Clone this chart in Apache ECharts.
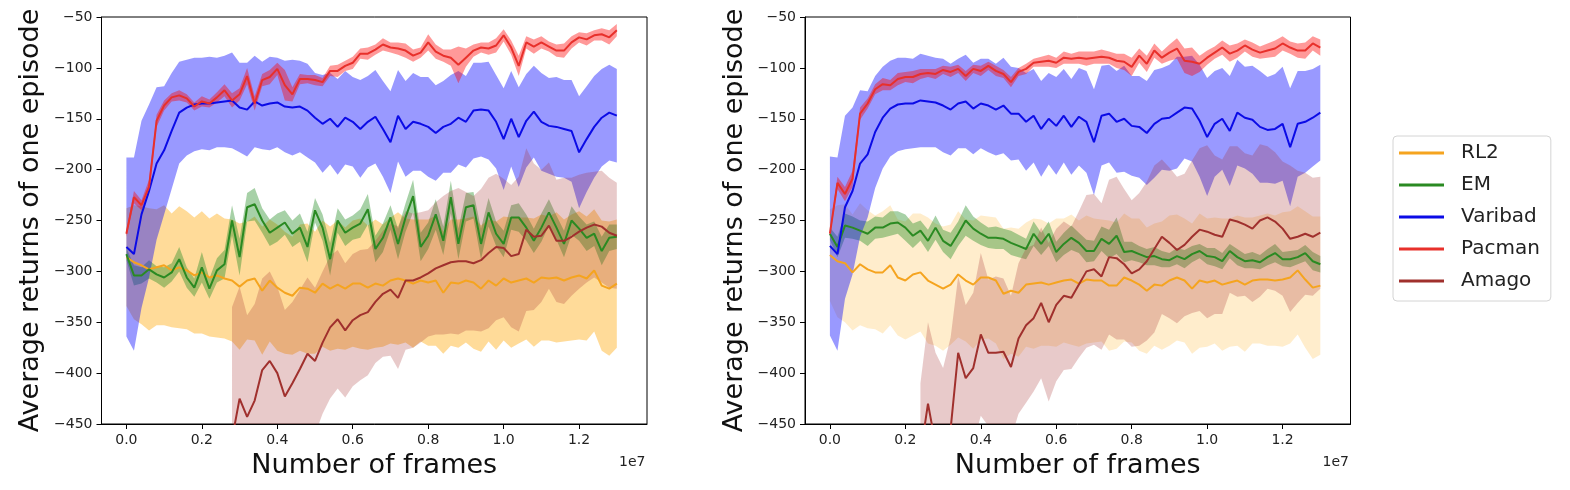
<!DOCTYPE html>
<html>
<head>
<meta charset="utf-8">
<script src="https://cdn.jsdelivr.net/npm/echarts@6/dist/echarts.min.js"></script>
<style>
  html, body { margin: 0; padding: 0; background: #fff; }
  #chart { width: 1570px; height: 490px; }
</style>
</head>
<body>
<div id="chart"></div>
<script>
// evaluation points: one every 2e5 frames
var frames = Array.from({ length: 66 }, function (_, i) { return i * 200000; });
var xTicks = [0, 2000000, 4000000, 6000000, 8000000, 10000000, 12000000];

var methods = ['RL2', 'EM', 'Varibad', 'Pacman', 'Amago'];

// ---- left panel: mean return and spread (std) per method ----
var L_RL2 = [-286, -291, -294, -298, -296, -294, -299, -296, -299, -304,
  -301, -306, -304, -307, -309, -315, -309, -307, -319, -309,
  -316, -321, -324, -316, -317, -321, -312, -317, -313, -317,
  -312, -312, -316, -312, -314, -309, -307, -309, -312, -309,
  -311, -309, -321, -311, -312, -309, -311, -317, -309, -314,
  -307, -311, -309, -307, -311, -306, -307, -306, -309, -306,
  -304, -307, -299, -314, -317, -312];
var L_RL2_sd = [48, 56, 58, 60, 57, 59, 56, 60, 58, 57,
  60, 58, 61, 59, 60, 62, 58, 61, 63, 60,
  62, 60, 58, 62, 64, 60, 62, 61, 63, 60,
  62, 64, 61, 63, 60, 62, 65, 61, 63, 60,
  62, 64, 60, 62, 63, 61, 65, 62, 60, 63,
  61, 64, 62, 60, 63, 62, 61, 64, 60, 62,
  63, 61, 60, 64, 66, 63];

var L_EM = [-283, -304, -304, -298, -303, -306, -301, -288, -306, -316,
  -296, -317, -299, -293, -250, -286, -237, -234, -250, -262,
  -257, -252, -263, -257, -276, -240, -257, -288, -250, -262,
  -257, -253, -239, -278, -267, -247, -273, -247, -226, -276,
  -265, -244, -270, -227, -273, -237, -235, -273, -242, -263,
  -273, -247, -247, -257, -270, -257, -242, -257, -273, -250,
  -258, -267, -263, -280, -267, -266];
var L_EM_sd = [6, 10, 8, 9, 8, 10, 9, 12, 10, 9,
  15, 10, 12, 14, 15, 18, 14, 16, 12, 13,
  14, 12, 13, 14, 15, 12, 13, 16, 12, 13,
  12, 14, 15, 13, 14, 12, 15, 14, 16, 14,
  13, 15, 14, 16, 15, 14, 13, 15, 14, 12,
  13, 12, 14, 13, 12, 14, 13, 12, 13, 14,
  12, 13, 12, 14, 13, 12];

var L_VAR = [-276, -283, -244, -221, -194, -181, -162, -144, -139, -136,
  -135, -135, -134, -133, -132, -139, -141, -133, -137, -135,
  -134, -138, -139, -138, -142, -149, -155, -150, -158, -149,
  -153, -160, -153, -148, -160, -173, -147, -160, -153, -155,
  -158, -164, -158, -155, -149, -153, -142, -141, -142, -153,
  -170, -150, -168, -152, -143, -153, -157, -158, -160, -162,
  -183, -170, -158, -149, -144, -147];
var L_VAR_sd = [88, 95, 92, 85, 75, 63, 57, 50, 47, 46,
  45, 46, 44, 45, 47, 44, 46, 45, 43, 46,
  44, 45, 47, 45, 46, 44, 48, 45, 47, 46,
  44, 48, 45, 46, 47, 50, 45, 47, 48, 46,
  49, 47, 45, 48, 46, 45, 47, 46, 48, 46,
  50, 47, 49, 46, 45, 48, 47, 49, 48, 50,
  55, 52, 50, 48, 47, 46];

var L_PAC = [-263, -227, -235, -217, -152, -137, -129, -127, -130, -138,
  -133, -135, -129, -122, -132, -126, -108, -135, -112, -109,
  -101, -117, -126, -111, -111, -112, -114, -103, -103, -98,
  -95, -86, -86, -82, -77, -80, -81, -83, -88, -85,
  -75, -84, -88, -90, -97, -90, -83, -80, -81, -78,
  -68, -80, -98, -75, -79, -75, -79, -83, -83, -75,
  -70, -72, -68, -67, -70, -63];
var L_PAC_sd = [3, 6, 5, 7, 6, 5, 4, 5, 4, 4,
  5, 4, 5, 6, 7, 6, 8, 7, 6, 7,
  6, 15, 7, 5, 4, 5, 4, 5, 6, 5,
  6, 5, 6, 5, 6, 5, 6, 7, 6, 5,
  8, 7, 6, 8, 18, 9, 6, 5, 6, 7,
  6, 7, 10, 6, 7, 6, 5, 6, 7, 6,
  5, 6, 5, 6, 7, 6];

var L_AMA = [null, null, null, null, null, null, null, null, null, null,
  null, null, null, null, -465, -425, -443, -427, -397, -388,
  -400, -423, -410, -396, -381, -388, -370, -355, -347, -358,
  -348, -343, -340, -330, -322, -318, -326, -309, -309, -306,
  -302, -297, -294, -291, -290, -290, -292, -289, -282, -276,
  -277, -285, -283, -259, -266, -265, -255, -270, -270, -266,
  -261, -257, -254, -256, -262, -265];
var L_AMA_sd = [null, null, null, null, null, null, null, null, null, null,
  null, null, null, null, 130, 110, 100, 95, 90, 88,
  85, 85, 80, 78, 75, 72, 70, 70, 68, 66,
  65, 64, 62, 60, 62, 65, 70, 68, 66, 64,
  62, 65, 68, 70, 72, 68, 66, 70, 74, 72,
  68, 70, 76, 80, 72, 65, 62, 60, 62, 58,
  56, 54, 52, 55, 54, 52];

// ---- right panel ----
var R_RL2 = [-284, -290, -292, -301, -293, -298, -301, -301, -294, -306,
  -309, -303, -301, -309, -313, -317, -313, -303, -309, -313,
  -306, -306, -309, -322, -319, -321, -313, -312, -311, -313,
  -311, -309, -308, -312, -308, -309, -309, -314, -314, -306,
  -309, -313, -319, -313, -314, -309, -306, -309, -317, -309,
  -311, -309, -313, -311, -309, -313, -309, -308, -308, -309,
  -308, -306, -299, -308, -316, -314];
var R_RL2_sd = [45, 55, 58, 57, 60, 58, 56, 60, 59, 57,
  58, 60, 58, 62, 60, 61, 59, 62, 60, 63,
  61, 60, 62, 64, 62, 63, 61, 64, 62, 60,
  63, 61, 64, 62, 63, 61, 60, 64, 62, 63,
  61, 65, 62, 60, 63, 64, 62, 61, 64, 66,
  63, 62, 65, 63, 64, 66, 62, 63, 65, 64,
  66, 65, 63, 67, 70, 68];

var R_EM = [-263, -276, -255, -257, -260, -263, -257, -257, -253, -252,
  -257, -265, -260, -270, -257, -270, -275, -263, -250, -258,
  -263, -267, -267, -268, -272, -275, -278, -263, -273, -263,
  -281, -273, -267, -272, -280, -280, -268, -273, -265, -281,
  -280, -283, -286, -285, -288, -289, -285, -288, -283, -280,
  -285, -286, -290, -280, -286, -290, -289, -291, -286, -282,
  -288, -288, -286, -282, -290, -293];
var R_EM_sd = [6, 10, 12, 11, 10, 12, 11, 10, 12, 11,
  13, 12, 10, 11, 12, 11, 13, 12, 15, 12,
  11, 10, 11, 10, 12, 11, 10, 12, 11, 12,
  10, 11, 12, 10, 11, 10, 12, 14, 18, 10,
  9, 8, 8, 9, 8, 7, 8, 9, 8, 7,
  8, 9, 8, 7, 8, 7, 8, 7, 8, 9,
  7, 8, 7, 8, 9, 8];

var R_VAR = [-275, -283, -237, -221, -194, -185, -163, -149, -140, -136,
  -135, -135, -132, -133, -134, -137, -141, -135, -133, -140,
  -135, -137, -141, -137, -145, -145, -153, -147, -160, -150,
  -157, -147, -158, -148, -153, -173, -147, -145, -153, -150,
  -157, -158, -164, -155, -150, -149, -144, -139, -140, -152,
  -168, -155, -150, -162, -144, -149, -151, -158, -161, -160,
  -155, -178, -155, -153, -149, -144];
var R_VAR_sd = [88, 95, 90, 82, 72, 62, 55, 50, 47, 46,
  45, 44, 46, 45, 44, 46, 45, 44, 46, 45,
  44, 46, 45, 47, 46, 45, 48, 46, 47, 45,
  48, 46, 47, 48, 50, 52, 49, 48, 50, 52,
  49, 50, 51, 53, 50, 52, 55, 50, 52, 55,
  58, 52, 50, 54, 52, 50, 53, 55, 52, 54,
  56, 58, 52, 50, 48, 47];

var R_PAC = [-263, -213, -224, -209, -145, -135, -121, -116, -117, -111,
  -109, -109, -106, -105, -106, -102, -104, -101, -108, -101,
  -103, -98, -103, -106, -114, -104, -101, -95, -94, -93,
  -95, -90, -91, -90, -91, -90, -89, -90, -93, -94,
  -99, -88, -96, -83, -90, -85, -81, -93, -94, -96,
  -90, -85, -80, -86, -83, -78, -82, -85, -83, -81,
  -76, -80, -83, -83, -76, -80];
var R_PAC_sd = [3, 6, 7, 8, 6, 5, 5, 6, 5, 6,
  5, 6, 5, 4, 5, 4, 5, 4, 5, 4,
  5, 4, 5, 4, 5, 4, 5, 4, 5, 6,
  5, 6, 5, 6, 7, 6, 7, 6, 7, 8,
  9, 7, 8, 7, 6, 8, 10, 12, 14, 8,
  7, 6, 7, 8, 7, 6, 7, 6, 7, 8,
  7, 6, 7, 8, 7, 8];

var R_AMA = [null, null, null, null, null, null, null, null, null, null,
  null, null, -480, -430, -470, -490, -455, -380, -405, -395,
  -362, -380, -380, -379, -394, -366, -353, -346, -331, -350,
  -333, -324, -326, -313, -300, -298, -305, -286, -287, -293,
  -302, -298, -290, -278, -266, -272, -279, -274, -266, -259,
  -261, -264, -266, -249, -251, -254, -258, -250, -247, -251,
  -258, -268, -266, -263, -266, -262];
var R_AMA_sd = [null, null, null, null, null, null, null, null, null, null,
  null, null, 70, 80, 90, 95, 90, 75, 72, 74,
  80, 72, 75, 72, 70, 74, 76, 72, 74, 78,
  75, 73, 70, 72, 75, 74, 72, 76, 80, 74,
  72, 75, 78, 82, 76, 74, 72, 70, 75, 80,
  85, 78, 76, 72, 74, 70, 72, 75, 70, 68,
  66, 72, 65, 60, 58, 55];

var panels = [
  { RL2: [L_RL2, L_RL2_sd], EM: [L_EM, L_EM_sd], Varibad: [L_VAR, L_VAR_sd], Pacman: [L_PAC, L_PAC_sd], Amago: [L_AMA, L_AMA_sd] },
  { RL2: [R_RL2, R_RL2_sd], EM: [R_EM, R_EM_sd], Varibad: [R_VAR, R_VAR_sd], Pacman: [R_PAC, R_PAC_sd], Amago: [R_AMA, R_AMA_sd] }
];

var FONT = 'DejaVu Sans';
var lineColor = { RL2: '#f5a41f', EM: '#2a8a22', Varibad: '#0b0be6', Pacman: '#e8302b', Amago: '#a0302d' };
var bandColor = {
  RL2: [255, 165, 0], EM: [34, 139, 34], Varibad: [0, 0, 255], Pacman: [255, 0, 0], Amago: [165, 42, 42]
};
var bandAlpha = [
  { RL2: 0.4, EM: 0.4, Varibad: 0.4, Pacman: 0.4, Amago: 0.25 },
  { RL2: 0.2, EM: 0.4, Varibad: 0.4, Pacman: 0.4, Amago: 0.25 }
];
var gridLeft = [101.5, 805];

// shaded band = polygon through (x, mean+sd) then back through (x, mean-sd)
function bandRenderer(pts, fill) {
  return function (params, api) {
    if (params.dataIndex !== 0) return null;
    var upper = [], lower = [];
    for (var k = 0; k < pts.length; k++) {
      upper.push(api.coord([pts[k][0], pts[k][2]]));
      lower.push(api.coord([pts[k][0], pts[k][1]]));
    }
    return {
      type: 'polygon',
      shape: { points: upper.concat(lower.reverse()) },
      style: { fill: fill, stroke: null }
    };
  };
}

var series = [];
panels.forEach(function (panel, g) {
  methods.forEach(function (m) {
    var mean = panel[m][0], sd = panel[m][1];
    var band = [], line = [];
    for (var i = 0; i < frames.length; i++) {
      if (mean[i] === null) continue;
      band.push([frames[i], mean[i] - sd[i], mean[i] + sd[i]]);
      line.push([frames[i], mean[i]]);
    }
    var c = bandColor[m];
    var fill = 'rgba(' + c[0] + ',' + c[1] + ',' + c[2] + ',' + bandAlpha[g][m] + ')';
    series.push({
      type: 'custom', name: m + ' band', xAxisIndex: g, yAxisIndex: g,
      data: band, encode: { x: 0, y: [1, 2] }, clip: true, silent: true,
      renderItem: bandRenderer(band, fill)
    });
    series.push({
      type: 'line', name: m, xAxisIndex: g, yAxisIndex: g,
      data: line, symbol: 'none', silent: true, clip: true,
      lineStyle: { color: lineColor[m], width: 2 },
      itemStyle: { color: lineColor[m] }
    });
  });
});

function xAxisFor(g) {
  return {
    type: 'value', gridIndex: g, min: -660000, max: 13800000,
    axisLine: { show: true, onZero: false, lineStyle: { color: '#000', width: 1 } },
    axisTick: { show: true, length: 5, customValues: xTicks, lineStyle: { color: '#000' } },
    axisLabel: {
      customValues: xTicks, fontSize: 14, color: '#222', fontFamily: FONT, margin: 9,
      formatter: function (v) { return (v / 1e7).toFixed(1); }
    },
    splitLine: { show: false },
    name: 'Number of frames', nameLocation: 'middle', nameGap: 28,
    nameTextStyle: { fontSize: 27, color: '#111', fontFamily: FONT }
  };
}
function yAxisFor(g) {
  return {
    type: 'value', gridIndex: g, min: -450, max: -50, interval: 50,
    axisLine: { show: true, onZero: false, lineStyle: { color: '#000', width: 1 } },
    axisTick: { show: true, length: 5, lineStyle: { color: '#000' } },
    axisLabel: {
      fontSize: 14, color: '#222', fontFamily: FONT, margin: 9,
      formatter: function (v) { return String(v).replace('-', '\u2212'); }
    },
    splitLine: { show: false },
    name: 'Average returns of one episode', nameLocation: 'middle', nameGap: 57,
    nameTextStyle: { fontSize: 27, color: '#111', fontFamily: FONT }
  };
}

var chart = echarts.init(document.getElementById('chart'));
chart.setOption({
  backgroundColor: '#fff',
  animation: false,
  textStyle: { fontFamily: FONT },
  grid: gridLeft.map(function (l) {
    return { left: l, top: 17, width: 545.5, height: 407, show: true, borderColor: '#000', borderWidth: 1, backgroundColor: 'transparent' };
  }),
  xAxis: [xAxisFor(0), xAxisFor(1)],
  yAxis: [yAxisFor(0), yAxisFor(1)],
  legend: {
    data: methods, orient: 'vertical', left: 1393, top: 136,
    icon: 'rect', itemWidth: 45, itemHeight: 3, itemGap: 12,
    padding: [7, 11, 10, 6], borderColor: '#d4d4d4', borderWidth: 1, borderRadius: 4,
    backgroundColor: '#fff', selectedMode: false,
    textStyle: { fontSize: 20, color: '#222', fontFamily: FONT, lineHeight: 20, padding: [0, 0, 0, 12] }
  },
  graphic: gridLeft.map(function (l) {
    return {
      type: 'text', x: l + 544, y: 462,
      style: { text: '1e7', align: 'right', verticalAlign: 'middle', font: '14px "DejaVu Sans"', fill: '#222' }
    };
  }),
  series: series
});
</script>
</body>
</html>
